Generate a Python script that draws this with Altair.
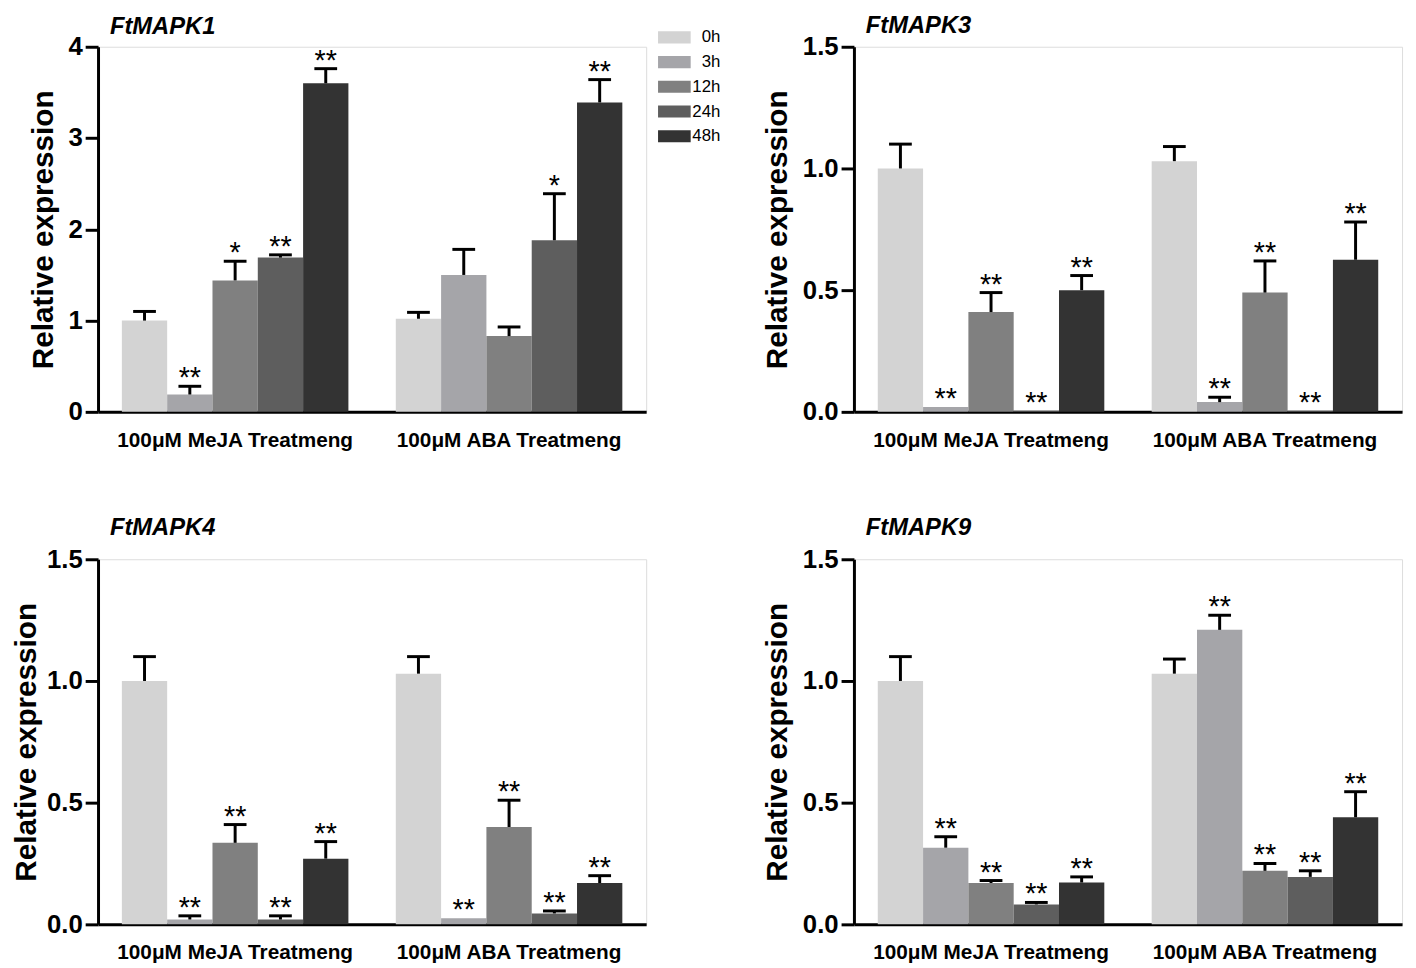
import altair as alt
import pandas as pd

FONT = "Liberation Sans"

times = ["0h", "3h", "12h", "24h", "48h"]
treatments = ["100μM MeJA Treatmeng", "100μM ABA Treatmeng"]
colors = ["#d3d3d3", "#a5a5a9", "#808080", "#5e5e5e", "#333333"]

# FtMAPK1
mapk1_meja = [1.00, 0.19, 1.44, 1.69, 3.60]
mapk1_meja_err = [0.10, 0.09, 0.21, 0.03, 0.16]
mapk1_meja_sig = ["", "**", "*", "**", "**"]
mapk1_aba = [1.02, 1.50, 0.83, 1.88, 3.39]
mapk1_aba_err = [0.07, 0.28, 0.10, 0.51, 0.25]
mapk1_aba_sig = ["", "", "", "*", "**"]

# FtMAPK3
mapk3_meja = [1.00, 0.02, 0.41, 0.005, 0.50]
mapk3_meja_err = [0.10, 0.0, 0.08, 0.0, 0.06]
mapk3_meja_sig = ["", "**", "**", "**", "**"]
mapk3_aba = [1.03, 0.04, 0.49, 0.005, 0.625]
mapk3_aba_err = [0.06, 0.02, 0.13, 0.0, 0.155]
mapk3_aba_sig = ["", "**", "**", "**", "**"]

# FtMAPK4
mapk4_meja = [1.00, 0.02, 0.335, 0.02, 0.27]
mapk4_meja_err = [0.10, 0.015, 0.075, 0.015, 0.07]
mapk4_meja_sig = ["", "**", "**", "**", "**"]
mapk4_aba = [1.03, 0.025, 0.40, 0.045, 0.17]
mapk4_aba_err = [0.07, 0.0, 0.11, 0.01, 0.03]
mapk4_aba_sig = ["", "**", "**", "**", "**"]

# FtMAPK9
mapk9_meja = [1.00, 0.315, 0.17, 0.082, 0.172]
mapk9_meja_err = [0.10, 0.045, 0.01, 0.008, 0.023]
mapk9_meja_sig = ["", "**", "**", "**", "**"]
mapk9_aba = [1.03, 1.21, 0.22, 0.195, 0.44]
mapk9_aba_err = [0.06, 0.06, 0.03, 0.025, 0.105]
mapk9_aba_sig = ["", "**", "**", "**", "**"]


def make_df(meja, meja_err, meja_sig, aba, aba_err, aba_sig):
    rows = []
    for tr, vals, errs, sigs in [
        (treatments[0], meja, meja_err, meja_sig),
        (treatments[1], aba, aba_err, aba_sig),
    ]:
        for t, v, e, s in zip(times, vals, errs, sigs):
            rows.append({"treatment": tr, "time": t, "value": v, "err": e,
                         "top": v + e, "sig": s})
    return pd.DataFrame(rows)


def panel(gene, df, ymax, tick_values, fmt, title_offset, show_legend=False,
          title_pad=10):
    base = alt.Chart(df)
    x = alt.X(
        "treatment:N", sort=treatments,
        scale=alt.Scale(paddingInner=0.173, paddingOuter=0.087),
        axis=alt.Axis(title=None, labelAngle=0, ticks=False, tickSize=0,
                      labelPadding=18, labelFontSize=21, labelFontWeight="bold",
                      labelFont=FONT, labelColor="black", labelLimit=400,
                      domainWidth=3, domainColor="black"),
    )
    xo = alt.XOffset("time:N", sort=times,
                     scale=alt.Scale(paddingInner=0, paddingOuter=0))
    yscale = alt.Scale(domain=[0, ymax], nice=False, zero=True)
    y = alt.Y(
        "value:Q", scale=yscale, title="Relative expression",
        axis=alt.Axis(values=tick_values, format=fmt, grid=False,
                      tickSize=13, tickWidth=3, tickColor="black",
                      domainWidth=3, domainColor="black",
                      labelFontSize=26, labelFontWeight="bold", labelFont=FONT,
                      labelColor="black", labelPadding=3,
                      titleFontSize=30, titleFontWeight="bold", titleFont=FONT,
                      titleColor="black", titlePadding=title_pad),
    )
    if show_legend:
        legend = alt.Legend(
            orient="none", legendX=574, legendY=-18, title=None,
            symbolType="M-2,-0.74H2V0.74H-2Z", symbolSize=272,
            symbolStrokeWidth=0, symbolOpacity=1,
            labelAlign="right", labelOffset=38, labelFontSize=17,
            labelFont=FONT, labelColor="black", rowPadding=7, padding=0,
        )
        color = alt.Color("time:N", sort=times,
                          scale=alt.Scale(domain=times, range=colors),
                          legend=legend)
    else:
        color = alt.Color("time:N", sort=times,
                          scale=alt.Scale(domain=times, range=colors),
                          legend=None)

    bars = base.mark_bar().encode(x=x, xOffset=xo, y=y, color=color)
    errs = base.transform_filter("datum.err > 0")
    rules = errs.mark_rule(color="black", strokeWidth=3).encode(
        x=x, xOffset=xo,
        y=alt.Y("value:Q", scale=yscale, title="Relative expression"),
        y2="top:Q")
    caps = errs.mark_tick(color="black", thickness=3, size=23, opacity=1).encode(
        x=x, xOffset=xo,
        y=alt.Y("top:Q", scale=yscale, title="Relative expression"))
    txt = base.transform_filter("datum.sig != ''").mark_text(
        font=FONT, fontSize=29, color="black", baseline="alphabetic", dy=1
    ).encode(
        x=x, xOffset=xo,
        y=alt.Y("top:Q", scale=yscale, title="Relative expression"),
        text="sig:N")
    return alt.layer(bars, rules, caps, txt).properties(
        width=554, height=369,
        title=alt.TitleParams(text=gene, anchor="start", frame="group", dx=12,
                              offset=title_offset, fontSize=24, font=FONT,
                              fontStyle="italic", fontWeight="bold",
                              baseline="alphabetic", color="black"),
    )


p1 = panel("FtMAPK1", make_df(mapk1_meja, mapk1_meja_err, mapk1_meja_sig,
                              mapk1_aba, mapk1_aba_err, mapk1_aba_sig),
           4, [0, 1, 2, 3, 4], "d", -29, show_legend=True)
p2 = panel("FtMAPK3", make_df(mapk3_meja, mapk3_meja_err, mapk3_meja_sig,
                              mapk3_aba, mapk3_aba_err, mapk3_aba_sig),
           1.5, [0, 0.5, 1.0, 1.5], ".1f", -23)
p3 = panel("FtMAPK4", make_df(mapk4_meja, mapk4_meja_err, mapk4_meja_sig,
                              mapk4_aba, mapk4_aba_err, mapk4_aba_sig),
           1.5, [0, 0.5, 1.0, 1.5], ".1f", -12, title_pad=5)
p4 = panel("FtMAPK9", make_df(mapk9_meja, mapk9_meja_err, mapk9_meja_sig,
                              mapk9_aba, mapk9_aba_err, mapk9_aba_sig),
           1.5, [0, 0.5, 1.0, 1.5], ".1f", -12)

chart = alt.concat(
    p1, p2, p3, p4, columns=2, spacing={"row": 149, "column": 210},
    bounds="flush",
).resolve_scale(color="independent").resolve_legend(color="independent").properties(
    padding={"left": 3, "top": 0, "right": 5, "bottom": 5}
).configure_view(strokeWidth=0).configure(background="white")

chart.save("out.html", embed_options={"renderer": "svg", "actions": False})
